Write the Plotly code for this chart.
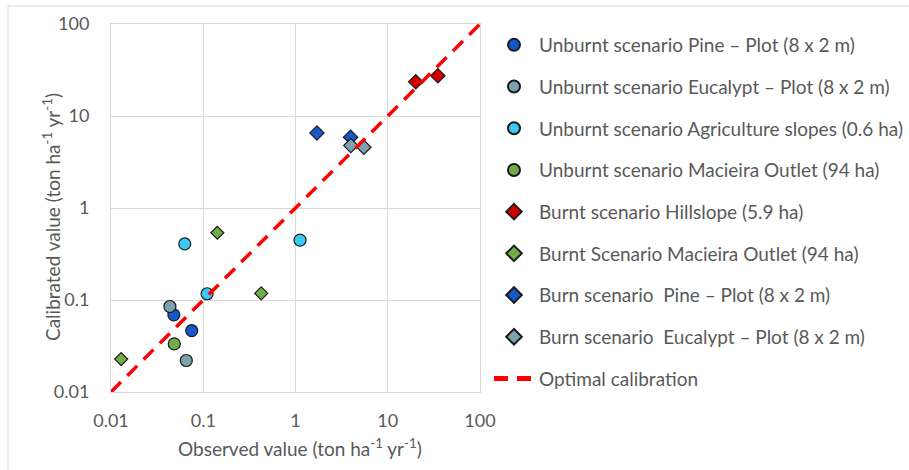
import plotly.graph_objects as go

# ---- data ----
series_names = [
    "Unburnt scenario Pine – Plot (8 x 2 m)",
    "Unburnt scenario Eucalypt – Plot (8 x 2 m)",
    "Unburnt scenario Agriculture slopes (0.6 ha)",
    "Unburnt scenario Macieira Outlet (94 ha)",
    "Burnt scenario Hillslope (5.9 ha)",
    "Burnt Scenario Macieira Outlet (94 ha)",
    "Burn scenario  Pine – Plot (8 x 2 m)",
    "Burn scenario  Eucalypt – Plot (8 x 2 m)",
]
obs_unburnt_pine = [0.048, 0.075]
cal_unburnt_pine = [0.069, 0.0465]
obs_unburnt_euc = [0.0435, 0.0655]
cal_unburnt_euc = [0.085, 0.022]
obs_unburnt_agri = [0.063, 1.12, 0.110]
cal_unburnt_agri = [0.408, 0.447, 0.117]
obs_unburnt_mac = [0.0485]
cal_unburnt_mac = [0.0333]
obs_burnt_hill = [20.1, 34.9]
cal_burnt_hill = [23.5, 27.4]
obs_burnt_mac = [0.142, 0.425, 0.0129]
cal_burnt_mac = [0.538, 0.118, 0.0228]
obs_burn_pine = [1.71, 3.95]
cal_burn_pine = [6.55, 5.87]
obs_burn_euc = [3.98, 5.51]
cal_burn_euc = [4.77, 4.57]
optimal_x = [0.01, 100]
optimal_y = [0.01, 100]
tick_vals = [0.01, 0.1, 1, 10, 100]
tick_text = ["0.01", "0.1", "1", "10", "100"]

obs = [obs_unburnt_pine, obs_unburnt_euc, obs_unburnt_agri, obs_unburnt_mac,
       obs_burnt_hill, obs_burnt_mac, obs_burn_pine, obs_burn_euc]
cal = [cal_unburnt_pine, cal_unburnt_euc, cal_unburnt_agri, cal_unburnt_mac,
       cal_burnt_hill, cal_burnt_mac, cal_burn_pine, cal_burn_euc]
colors = ["#1558C8", "#7AA3AE", "#3CC8F4", "#70AD47",
          "#D40000", "#70AD47", "#1558C8", "#7AA3AE"]
symbols = ["circle"] * 4 + ["diamond"] * 4
sizes = [12, 12, 12, 12, 11, 10, 11, 11]

FONT = "Lato"
GRAY = "#595959"

fig = go.Figure()
for i, name in enumerate(series_names):
    fig.add_trace(go.Scatter(
        x=obs[i], y=cal[i], mode="markers", name=name, legendgroup=f"g{i}",
        marker=dict(symbol=symbols[i], size=sizes[i], color=colors[i],
                    line=dict(color="#1a1a1a", width=1.2)),
    ))
fig.add_trace(go.Scatter(
    x=optimal_x, y=optimal_y, mode="lines", name="Optimal calibration",
    legendgroup="opt", line=dict(color="#FF0000", width=3.5, dash="14px,9px"),
))

axis_common = dict(
    type="log", tickvals=tick_vals, ticktext=tick_text,
    showgrid=True, gridcolor="#D9D9D9", gridwidth=1,
    showline=True, linecolor="#D9D9D9", linewidth=1, mirror=True,
    zeroline=False, tickfont=dict(family=FONT, size=18, color=GRAY),
)
fig.update_xaxes(range=[-2, 2], ticklabelstandoff=12, automargin=False, **axis_common)
fig.update_yaxes(range=[-2, 2], ticklabelstandoff=17, automargin=False, **axis_common)

fig.update_layout(
    width=909, height=470,
    margin=dict(l=111, r=429, t=24, b=78, autoexpand=False),
    paper_bgcolor="white", plot_bgcolor="white",
    font=dict(family=FONT, size=18, color=GRAY),
    showlegend=True,
    legend=dict(xref="container", yref="container",
                x=489 / 909, xanchor="left", y=1 - 26 / 470, yanchor="top",
                font=dict(family=FONT, size=19, color=GRAY),
                tracegroupgap=14, itemsizing="constant", itemwidth=40,
                maxheight=460, bgcolor="rgba(0,0,0,0)"),
    annotations=[
        dict(text="Observed value (ton ha<sup>-1</sup> yr<sup>-1</sup>)",
             xref="paper", yref="paper", x=0.511, y=-0.152,
             xanchor="center", yanchor="middle",
             showarrow=False, font=dict(family=FONT, size=19, color=GRAY)),
        dict(text="Calibrated value (ton ha<sup>-1</sup> yr<sup>-1</sup>)",
             xref="paper", yref="paper", x=-0.163, y=0.475, textangle=-90,
             xanchor="center", yanchor="middle",
             showarrow=False, font=dict(family=FONT, size=19, color=GRAY)),
    ],
    shapes=[dict(type="rect", xref="paper", yref="paper",
                 x0=(8 - 111) / 369, x1=(940 - 111) / 369,
                 y0=(392 - 500) / 368, y1=(392 - 6) / 368,
                 line=dict(color="#D9D9D9", width=1), layer="below")],
)

fig.write_html("out.html", config={"displayModeBar": False},
               post_script="document.body.style.margin='0';document.body.style.overflow='hidden';")
